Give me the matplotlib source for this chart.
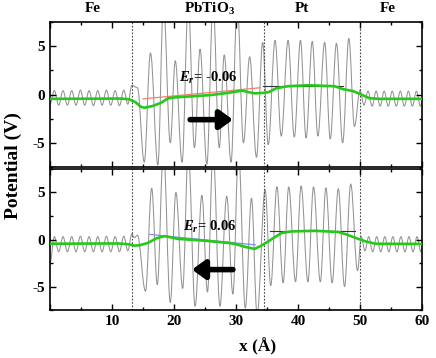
import numpy as np
import matplotlib
matplotlib.use("Agg")
import matplotlib.pyplot as plt
from matplotlib.path import Path
from matplotlib.patches import PathPatch
from matplotlib.ticker import MultipleLocator

plt.rcParams['font.family'] = ['Liberation Serif', 'DejaVu Serif']
plt.rcParams['font.weight'] = 'bold'
plt.rcParams['mathtext.fontset'] = 'custom'
plt.rcParams['mathtext.rm'] = 'Liberation Serif:bold'
plt.rcParams['mathtext.it'] = 'Liberation Serif:italic:bold'
plt.rcParams['mathtext.bf'] = 'Liberation Serif:bold'

# ---------------- data ----------------
layer_names = ['Fe', 'PbTiO$_3$', 'Pt', 'Fe']
layer_centers = [6.9, 25.8, 40.6, 54.5]
interfaces = [13.3, 34.5, 50.0]

# planar-averaged potential: extrema (x in Å, V) -- top panel (E_r = -0.06)
top_ext_x = [0.0, 0.7, 1.4, 2.1, 2.8, 3.5, 4.2, 4.9, 5.6, 6.3, 7.0, 7.7, 8.4, 9.1, 9.8,
             10.5, 11.2, 11.9, 12.55, 13.2, 14.1,
             15.2, 16.2, 17.4, 18.3, 19.4, 20.2, 21.3, 22.3, 23.3, 24.2, 25.3, 26.3,
             27.3, 28.1, 29.2, 30.2, 31.2, 32.2, 33.3, 34.3,
             35.2, 36.3, 37.3, 38.4, 39.4, 40.4, 41.3, 42.3, 43.2, 44.3, 45.2, 46.2,
             47.2, 48.2, 49.1, 50.0,
             50.65, 51.3, 51.95, 52.6, 53.25, 53.9, 54.55, 55.2, 55.85, 56.5, 57.15,
             57.8, 58.45, 59.1, 59.75, 60.0]
top_ext_v = [-1.0, 0.4, -1.1, 0.4, -1.1, 0.4, -1.1, 0.45, -1.1, 0.4, -1.15, 0.4, -1.1, 0.45, -1.1,
             0.4, -1.15, 0.45, -1.0, 0.95, 0.7,
             -7.0, 4.3, -7.3, 9.5, -5.0, 3.5, -7.0, 9.5, -5.5, 4.7, -7.2, 9.5,
             -5.5, 4.1, -7.0, 9.5, -5.0, 3.9, -6.5, 5.4,
             -5.2, 5.6, -4.3, 5.6, -4.4, 5.6, -4.5, 5.5, -4.3, 5.4, -4.6, 5.3,
             -5.0, 5.8, -3.3, 0.45,
             -1.1, 0.35, -1.2, 0.35, -1.2, 0.35, -1.2, 0.35, -1.2, 0.35, -1.2,
             0.35, -1.2, 0.35, -1.2, -0.9]

# bottom panel (E_r = 0.06)
bot_ext_x = [0.0, 0.7, 1.4, 2.1, 2.8, 3.5, 4.2, 4.9, 5.6, 6.3, 7.0, 7.7, 8.4, 9.1, 9.8,
             10.5, 11.2, 11.9, 12.55, 13.2, 13.6, 14.1,
             15.4, 16.4, 17.3, 18.3, 19.4, 20.3, 21.4, 22.3, 23.4, 24.5, 25.4, 26.3,
             27.4, 28.5, 29.5, 30.4, 31.5, 32.5, 33.4, 34.7,
             35.6, 36.6, 37.6, 38.5, 39.6, 40.5, 41.6, 42.5, 43.6, 44.5, 45.5, 46.5,
             47.5, 48.5, 49.6, 50.2,
             50.8, 51.4, 52.05, 52.7, 53.35, 54.0, 54.65, 55.3, 55.95, 56.6, 57.25,
             57.9, 58.55, 59.2, 59.8, 60.0]
bot_ext_v = [-2.5, 0.3, -1.3, 0.3, -1.3, 0.3, -1.3, 0.35, -1.3, 0.3, -1.3, 0.3, -1.3, 0.35, -1.3,
             0.3, -1.3, 0.35, -1.2, 0.6, 0.2, 0.45,
             -5.5, 5.45, -4.8, 9.5, -6.7, 5.0, -5.2, 9.5, -7.1, 4.7, -5.6, 9.5,
             -7.1, 4.6, -5.8, 9.5, -7.3, 4.4, -8.0, 5.3,
             -4.9, 5.6, -4.6, 5.6, -4.5, 5.7, -4.5, 5.6, -4.5, 5.5, -4.6, 5.4,
             -5.0, 5.9, -3.3, 0.3,
             -1.2, 0.3, -1.3, 0.3, -1.3, 0.3, -1.3, 0.3, -1.3, 0.3, -1.3,
             0.3, -1.3, 0.3, -1.3, -0.9]

# macroscopic average (green)
top_avg_x = [0, 11.5, 12.8, 13.8, 14.6, 15.2, 16.5, 17.9, 19.0, 20.0, 23.3, 26.0, 28.7, 31.0,
             32.0, 33.0, 34.5, 35.3, 36.5, 38.4, 41.6, 45.9, 47.3, 48.9, 50.2, 51.5, 53.0, 60]
top_avg_v = [-0.45, -0.42, -0.5, -0.8, -1.25, -1.37, -1.2, -0.86, -0.4, -0.3, -0.17, -0.05, 0.17, 0.4,
             0.25, 0.12, 0.17, 0.25, 0.65, 0.86, 0.96, 0.86, 0.55, 0.35, 0.0, -0.38, -0.45, -0.45]
bot_avg_x = [0, 11.0, 12.6, 13.6, 14.4, 15.8, 17.2, 18.5, 20.6, 24.4, 28.7, 29.8, 31.7, 33.0,
             34.1, 35.2, 36.0, 37.3, 38.9, 42.7, 46.5, 47.8, 49.7, 51.0, 52.5, 60]
bot_avg_v = [-0.45, -0.42, -0.5, -0.65, -0.62, -0.36, 0.14, 0.36, 0.07, -0.1, -0.36, -0.47, -0.82, -1.0,
             -0.65, -0.2, 0.14, 0.68, 0.86, 0.93, 0.8, 0.54, 0.07, -0.22, -0.45, -0.47]

# linear fits in PbTiO3 and Pt plateau
top_fit_x = [15.0, 33.9]
top_fit_v = [-0.45, 0.7]
bot_fit_x = [16.1, 33.1]
bot_fit_v = [0.54, -0.57]
top_pt_x = [34.4, 47.3]
top_pt_v = [0.93, 0.93]
bot_pt_x = [35.5, 49.2]
bot_pt_v = [0.9, 0.9]

field_labels = ['$E_r$= -0.06', '$E_r$= 0.06']
field_label_pos = [(25.5, 1.75), (25.8, 1.3)]
arrow_top = ((22.6, -2.6), (29.5, -2.6))   # tail, head
arrow_bot = ((29.5, -3.2), (22.9, -3.2))

xticks = [0, 10, 20, 30, 40, 50, 60]
xticklabels = ['', '10', '20', '30', '40', '50', '60']
yticks = [-5, 0, 5]
yticklabels = ['-5', '0', '5']


def wave_path(xs, ys, k=0.3642):
    verts = [(xs[0], ys[0])]
    codes = [Path.MOVETO]
    for i in range(1, len(xs)):
        dx = xs[i] - xs[i - 1]
        verts += [(xs[i - 1] + k * dx, ys[i - 1]), (xs[i] - k * dx, ys[i]), (xs[i], ys[i])]
        codes += [Path.CURVE4] * 3
    return Path(verts, codes)


fig = plt.figure(figsize=(4.36, 3.58), dpi=100)
ax1 = fig.add_axes([0.1147, 0.5335, 0.8532, 0.405])
ax2 = fig.add_axes([0.1147, 0.134, 0.8532, 0.394])

green = '#26c81a'
panels = [
    (ax1, top_ext_x, top_ext_v, top_avg_x, top_avg_v, top_fit_x, top_fit_v, '#f08070',
     top_pt_x, top_pt_v, field_labels[0], field_label_pos[0], arrow_top),
    (ax2, bot_ext_x, bot_ext_v, bot_avg_x, bot_avg_v, bot_fit_x, bot_fit_v, '#7f8cf0',
     bot_pt_x, bot_pt_v, field_labels[1], field_label_pos[1], arrow_bot),
]

for (ax, ex, ev, ax_, av, fx, fv, fc, px, pv, lab, lpos, arr) in panels:
    ax.add_patch(PathPatch(wave_path(ex, ev), fill=False, edgecolor='#939393', lw=0.75, zorder=1))
    ax.plot(fx, fv, color=fc, lw=0.9, zorder=2)
    ax.plot(px, pv, color='#333333', lw=0.8, zorder=2)
    ax.plot(ax_, av, color=green, lw=1.9, zorder=3, solid_capstyle='round')
    for xi in interfaces:
        ax.axvline(xi, color='#444444', ls=(0, (1.5, 1.5)), lw=0.8, zorder=1.5)
    ax.text(lpos[0], lpos[1], lab, ha='center', va='center', fontsize=10.5,
            fontweight='bold', zorder=4)
    ax.annotate('', xy=arr[1], xytext=arr[0],
                arrowprops=dict(arrowstyle='-|>,head_length=0.55,head_width=0.4',
                                lw=4, color='black', shrinkA=0, shrinkB=0,
                                mutation_scale=14), zorder=4)
    ax.set_xlim(0, 60)
    ax.set_ylim(-7.5, 7.5)
    ax.set_xticks(xticks)
    ax.xaxis.set_minor_locator(MultipleLocator(5))
    ax.set_yticks(yticks)
    ax.set_yticklabels(yticklabels)
    ax.yaxis.set_minor_locator(MultipleLocator(2.5))
    ax.tick_params(which='both', direction='in', top=True, right=True, labelsize=11,
                   width=1.0)
    ax.tick_params(which='major', length=4)
    ax.tick_params(which='minor', length=2.5)
    for sp in ax.spines.values():
        sp.set_linewidth(1.2)

ax1.set_xticklabels([''] * len(xticks))
ax2.set_xticklabels(xticklabels)

for name, xc in zip(layer_names, layer_centers):
    ax1.text(xc, 1.09, name, transform=ax1.get_xaxis_transform(), ha='center', va='center',
             fontsize=11, fontweight='bold')

fig.text(0.03, 0.537, 'Potential (V)', rotation=90, ha='center', va='center',
         fontsize=14, fontweight='bold')
fig.text(258 / 436, 1 - 347 / 358, 'x (Å)', ha='center', va='center',
         fontsize=12.5, fontweight='bold')

fig.savefig('out.png', dpi=100)
